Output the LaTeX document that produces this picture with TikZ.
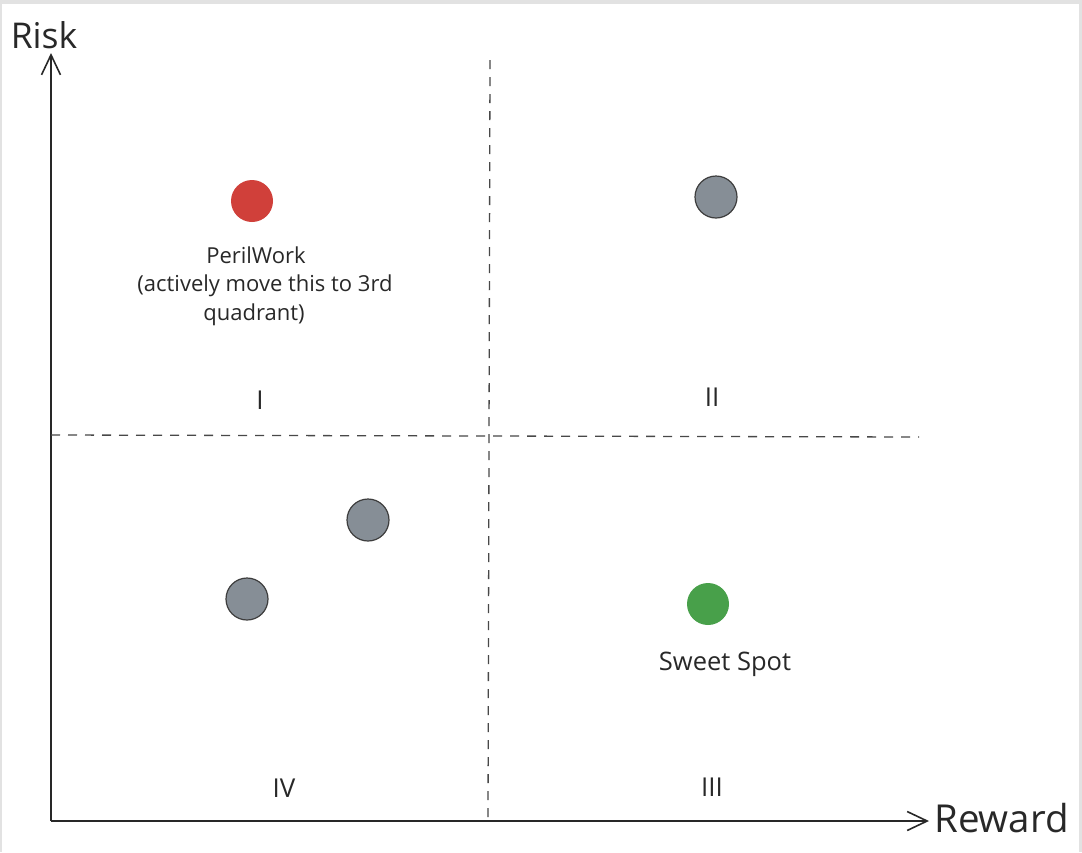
\documentclass[tikz,border=0pt]{standalone}
\usepackage{fontspec}
\setmainfont{Open Sans}
\usetikzlibrary{arrows.meta}
\definecolor{axis}{RGB}{40,40,40}
\definecolor{dotgray}{RGB}{134,142,150}
\definecolor{dotred}{RGB}{208,64,58}
\definecolor{dotgreen}{RGB}{72,160,74}
\definecolor{frame}{RGB}{226,226,226}
\tikzset{
  axisline/.style={draw=axis, line width=1.6pt, -{Straight Barb[length=20pt,width=19pt,line width=1.6pt]}},
  divider/.style={draw=axis!85, line width=1.3pt, dash pattern=on 9pt off 8pt},
  dot/.style={circle, minimum size=42pt, inner sep=0pt},
  graydot/.style={dot, fill=dotgray, draw=axis!90, line width=1.2pt},
  lbl/.style={font=\fontsize{22pt}{28.5pt}\selectfont, text=axis, align=center, inner sep=0pt},
  sslbl/.style={font=\fontsize{25.5pt}{30pt}\selectfont, text=axis, inner sep=0pt},
  axlbl/.style={font=\fontsize{35.5pt}{42pt}\selectfont, text=axis, inner sep=0pt},
  quad/.style={font=\fontsize{26pt}{30pt}\selectfont, text=axis, inner sep=0pt}
}
\begin{document}
\begin{tikzpicture}[x=1pt,y=-1pt]
\useasboundingbox (0,0) rectangle (1082,852);
\fill[frame] (0,0) rectangle (1082,852);
\fill[white] (2,4) rectangle (1079,852);
% axes
\coordinate (o) at (51,821);
\coordinate (ytip) at (51,53);
\coordinate (xtip) at (929,821);
\draw[axisline] (o) -- (ytip);
\draw[axisline] (o) -- (xtip);
\node[axlbl] (risk) at (44,35) {Risk};
\node[axlbl, anchor=west, font=\fontsize{38.5pt}{42pt}\selectfont] (reward) at (934,818) {Reward};
% dividers
\coordinate (vtop) at (490,60);
\coordinate (vbot) at (488,820);
\coordinate (hl) at (51,435);
\coordinate (hr) at (919,437);
\draw[divider] (vtop) -- (vbot);
\draw[divider] (hl) -- (hr);
% dots
\node[dot, fill=dotred] (peril) at (252,201) {};
\node[graydot] (g1) at (716,197) {};
\node[graydot] (g2) at (368,520) {};
\node[graydot] (g3) at (247,599) {};
\node[dot, fill=dotgreen] (sweet) at (708,604) {};
% labels
\node[lbl] (perillbl) at (265,286) {PerilWork\hspace*{18pt}\\(actively move this to 3rd\\quadrant)\hspace*{22pt}};
\node[sslbl] (sweetlbl) at (725,664) {Sweet Spot};
% quadrant numerals
\node[quad] (q1) at (260,400) {I};
\node[quad] (q2) at (712,397) {II};
\node[quad] (q3) at (712,787) {III};
\node[quad] (q4) at (284,788) {IV};
\end{tikzpicture}
\end{document}
